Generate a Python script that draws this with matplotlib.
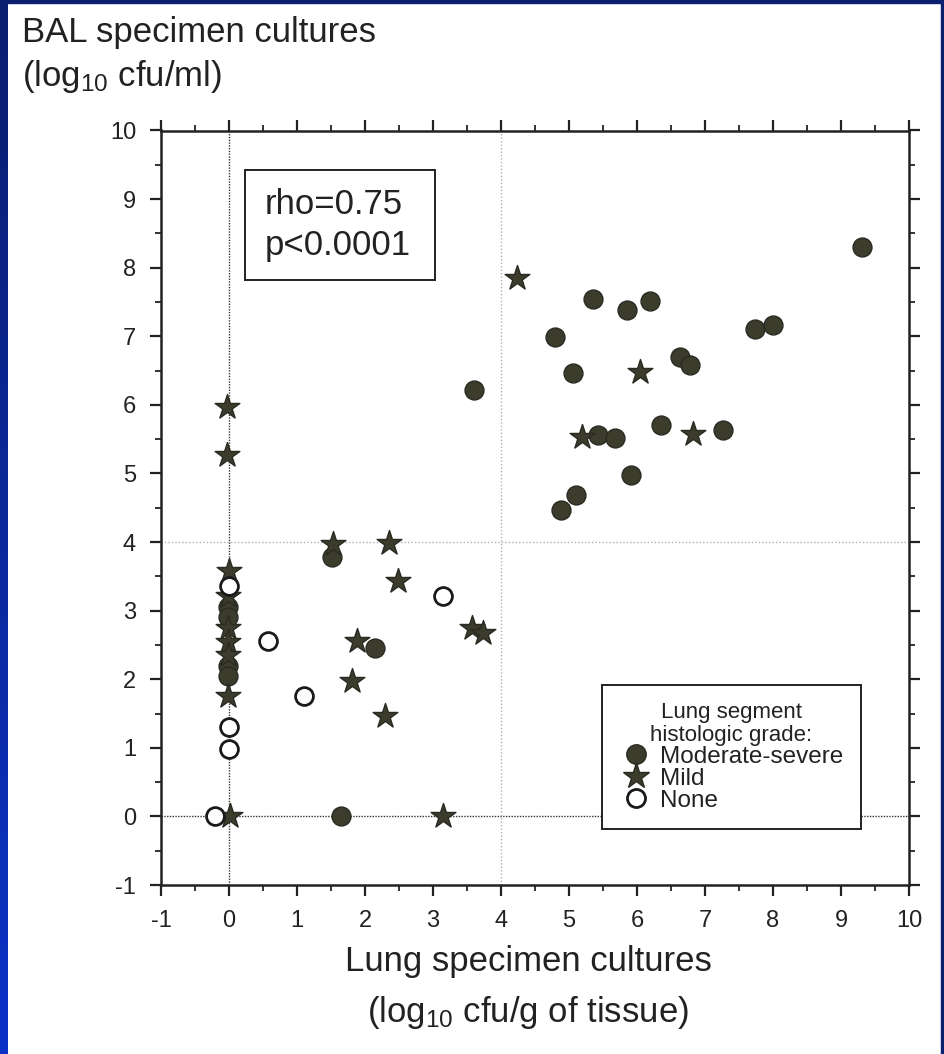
import numpy as np
import matplotlib
matplotlib.use("Agg")
import matplotlib.pyplot as plt
from matplotlib.lines import Line2D
from matplotlib.patches import Rectangle
from matplotlib.colors import LinearSegmentedColormap

plt.rcParams["axes.unicode_minus"] = False
plt.rcParams["mathtext.fontset"] = "custom"
plt.rcParams["mathtext.rm"] = "Liberation Sans"
plt.rcParams["mathtext.it"] = "Liberation Sans"
FONT = ["Liberation Sans", "DejaVu Sans"]

# ---- data ----
mod_x = [9.31, 5.35, 5.86, 6.19, 4.79, 5.06, 7.73, 8.00, 6.63, 6.78, 5.42, 5.68, 6.35, 7.26,
         5.91, 5.11, 4.88, 3.61, 1.52, 2.15, 1.64, -0.02, -0.02, -0.02, -0.02]
mod_y = [8.30, 7.54, 7.39, 7.51, 6.99, 6.46, 7.10, 7.17, 6.70, 6.58, 5.56, 5.51, 5.70, 5.63,
         4.98, 4.68, 4.46, 6.22, 3.78, 2.46, 0.00, 3.05, 2.90, 2.20, 2.05]

mild_x = [4.24, 6.05, 5.19, 6.82, 1.53, 2.35, 2.48, 1.88, 1.81, 2.29, 3.58, 3.73, 3.15,
          -0.03, -0.03, 0.00, -0.02, -0.02, -0.02, -0.02, -0.01, 0.02]
mild_y = [7.85, 6.48, 5.53, 5.58, 3.97, 3.98, 3.43, 2.56, 1.97, 1.47, 2.75, 2.68, 0.00,
          5.97, 5.27, 3.58, 3.22, 2.75, 2.55, 2.35, 1.76, 0.00]

none_x = [3.15, 0.58, 1.10, 0.00, 0.00, 0.00, -0.21]
none_y = [3.22, 2.56, 1.76, 3.36, 1.30, 0.99, 0.00]

x_ticks = list(range(-1, 11))
y_ticks = list(range(-1, 11))
x_minor = [v + 0.5 for v in range(-1, 10)]
y_minor = [v + 0.5 for v in range(-1, 10)]

W, H = 944, 1054
fig = plt.figure(figsize=(W / 100, H / 100), dpi=100)
fig.patch.set_facecolor("white")

def fx(px):
    return px / W

def fy(py):
    return 1 - py / H

# blue frame
grad = np.linspace(0, 1, 256).reshape(-1, 1)
cmap = LinearSegmentedColormap.from_list("b", ["#0a1f6e", "#0a32c8"])
lx = fig.add_axes([0, 0, 8 / W, 1], zorder=-5)
lx.imshow(grad, aspect="auto", cmap=cmap, origin="upper")
lx.set_axis_off()
fig.patches.append(Rectangle((0, 1 - 3 / H), 1, 3 / H, transform=fig.transFigure,
                             color="#0a1f6e", zorder=-4))
fig.patches.append(Rectangle((1 - 3 / W, 0), 3 / W, 1, transform=fig.transFigure,
                             color="#0a1f6e", zorder=-4))

L, R, T, B = 161, 909, 130.5, 885
ax = fig.add_axes([fx(L), fy(B), (R - L) / W, (B - T) / H])
ax.set_xlim(-1, 10)
ax.set_ylim(-1, 10)

ink = "#222222"
for s in ax.spines.values():
    s.set_linewidth(1.8)
    s.set_color(ink)

# reference lines
ax.axvline(0, color="#333333", lw=1.0, ls=(0, (1, 1)), zorder=1)
ax.axhline(0, color="#333333", lw=1.0, ls=(0, (1, 1)), zorder=1)
ax.axvline(4, color="#b0b0b0", lw=1.0, ls=(0, (1, 1.5)), zorder=1)
ax.axhline(4, color="#b0b0b0", lw=1.0, ls=(0, (1, 1.5)), zorder=1)

fillc = "#3c3c2c"
ax.scatter(mod_x, mod_y, s=185, marker="o", facecolor=fillc, edgecolor="#2a2a22", lw=1.0, zorder=3)
ax.scatter(mild_x, mild_y, s=350, marker="*", facecolor=fillc, edgecolor="#2a2a22", lw=1.0, zorder=3)
ax.scatter(none_x, none_y, s=165, marker="o", facecolor="white", edgecolor="#1a1a1a", lw=2.0, zorder=4)

ax.set_xticks(x_ticks)
ax.set_yticks(y_ticks)
ax.set_xticks(x_minor, minor=True)
ax.set_yticks(y_minor, minor=True)
ax.tick_params(which="both", direction="out", top=True, right=True, color=ink)
ax.tick_params(which="major", length=8, width=1.6, labelsize=17)
ax.tick_params(which="minor", length=4.5, width=1.3)
ax.tick_params(axis="x", pad=10)
ax.tick_params(axis="y", pad=10)
for lab in ax.get_xticklabels() + ax.get_yticklabels():
    lab.set_family(FONT)
    lab.set_color(ink)

# stat box
fig.patches.append(Rectangle((fx(245), fy(280)), (435 - 245) / W, (280 - 170) / H,
                             transform=fig.transFigure, fc="white", ec=ink, lw=1.4, zorder=5))
fig.text(fx(265), fy(214), "rho=0.75", fontsize=25, family=FONT, color=ink,
         va="baseline", ha="left", zorder=6)
fig.text(fx(265), fy(255), "p<0.0001", fontsize=25, family=FONT, color=ink,
         va="baseline", ha="left", zorder=6)

# legend
handles = [
    Line2D([], [], ls="none", marker="o", ms=14, mfc=fillc, mec="#2a2a22", label="Moderate-severe"),
    Line2D([], [], ls="none", marker="*", ms=20, mfc=fillc, mec="#2a2a22", label="Mild"),
    Line2D([], [], ls="none", marker="o", ms=13, mfc="white", mec="#1a1a1a", mew=2, label="None"),
]
leg = ax.legend(handles=handles, title="Lung segment\nhistologic grade:", loc="upper left",
                bbox_to_anchor=((602 - L) / (R - L), (B - 685) / (B - T)),
                frameon=True, fancybox=False, edgecolor=ink, framealpha=1,
                prop={"family": FONT, "size": 17.5},
                title_fontproperties={"family": FONT, "size": 16},
                handletextpad=0.3, labelspacing=0.0, borderpad=0.7, handlelength=1.4,
                handleheight=0.7, borderaxespad=0)
leg.get_frame().set_linewidth(1.4)
leg.get_title().set_multialignment("center")
leg.get_title().set_linespacing(1.1)
leg.get_title().set_color(ink)
for t in leg.get_texts():
    t.set_color(ink)

# axis titles
fig.text(fx(22), fy(42), "BAL specimen cultures", fontsize=25, family=FONT, color=ink,
         va="baseline", ha="left")
fig.text(fx(22), fy(86), r"(log$_{10}$ cfu/ml)", fontsize=25, family=FONT, color=ink,
         va="baseline", ha="left")
fig.text(fx(528), fy(971), "Lung specimen cultures", fontsize=25, family=FONT, color=ink,
         va="baseline", ha="center")
fig.text(fx(528), fy(1022), r"(log$_{10}$ cfu/g of tissue)", fontsize=25, family=FONT, color=ink,
         va="baseline", ha="center")

fig.savefig("out.png", dpi=100)
